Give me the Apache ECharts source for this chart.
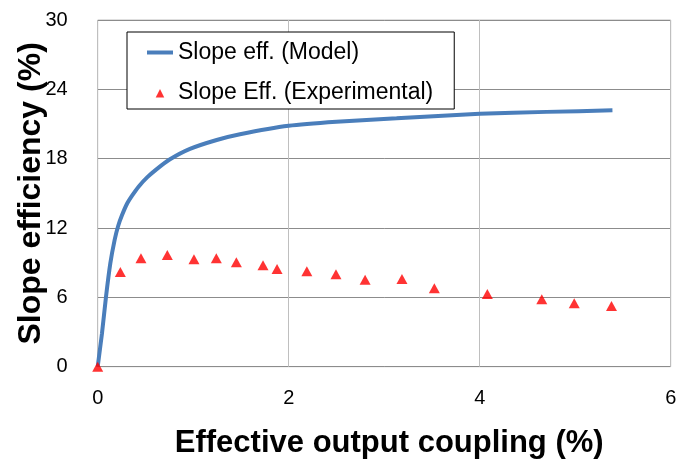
<!DOCTYPE html>
<html><head><meta charset="utf-8">
<script src="https://cdn.jsdelivr.net/npm/echarts@6/dist/echarts.min.js"></script>
<style>html,body{margin:0;padding:0;background:#fff}#c{width:677px;height:459px}</style>
</head><body><div id="c"></div>
<script>
var modelX = [0, 0.045, 0.087, 0.132, 0.178, 0.215, 0.254, 0.307, 0.36, 0.43, 0.52, 0.618, 0.757, 0.966, 1.246, 1.49, 2.0, 2.5, 3.13, 4.0, 4.7, 5.39];
var modelY = [0, 2.9, 6.06, 8.94, 11.0, 12.2, 13.1, 14.1, 14.8, 15.6, 16.4, 17.1, 17.95, 18.85, 19.62, 20.12, 20.85, 21.2, 21.49, 21.89, 22.05, 22.18];
var expX = [0, 0.237, 0.453, 0.729, 1.008, 1.242, 1.452, 1.731, 1.878, 2.19, 2.495, 2.8, 3.186, 3.525, 4.08, 4.65, 4.99, 5.38];
var expY = [0, 8.2, 9.38, 9.66, 9.29, 9.38, 9.03, 8.77, 8.45, 8.25, 7.99, 7.53, 7.59, 6.78, 6.29, 5.83, 5.48, 5.25];
var xTicks = [0, 2, 4, 6];
var yTicks = [0, 6, 12, 18, 24, 30];
var seriesNames = ['Slope eff. (Model)', 'Slope Eff. (Experimental)'];

function pairs(xs, ys) { return xs.map(function (x, i) { return [x, ys[i]]; }); }

var font = 'Arial, "Liberation Sans", sans-serif';
var chart = echarts.init(document.getElementById('c'), null, {renderer: 'canvas'});
chart.setOption({
  animation: false,
  backgroundColor: '#fff',
  grid: {left: 97.7, right: 6.3, top: 20, bottom: 92.3, outerBoundsMode: 'none', containLabel: false,
         show: true, borderColor: '#bfbfbf', borderWidth: 1, backgroundColor: 'transparent'},
  legend: {
    orient: 'vertical', left: 127, top: 32,
    padding: [9, 21, 5, 20],
    itemWidth: 26, itemHeight: 10, itemGap: 17,
    symbolKeepAspect: true,
    backgroundColor: '#fff', borderColor: '#000', borderWidth: 1,
    textStyle: {fontFamily: font, fontSize: 23, color: '#000'},
    data: [
      {name: seriesNames[0], icon: 'path://M0,0 M26,10 M0,3 L26,3 L26,7 L0,7 Z', itemStyle: {color: '#4a7ebb'}},
      {name: seriesNames[1], icon: 'path://M0,0 M26,10 M8.5,10.5 L13,1.5 L17.5,10.5 Z', itemStyle: {color: '#ff0000'}}
    ]
  },
  xAxis: {
    type: 'value', min: xTicks[0], max: xTicks[xTicks.length - 1], interval: 2,
    axisLine: {show: false}, axisTick: {show: false},
    splitLine: {show: true, lineStyle: {color: '#bfbfbf', width: 1}},
    axisLabel: {fontFamily: font, fontSize: 20, color: '#000', margin: 22},
    name: 'Effective output coupling (%)', nameLocation: 'middle', nameGap: 61, nameMoveOverlap: false,
    nameTextStyle: {fontFamily: font, fontSize: 31, fontWeight: 'bold', color: '#000', padding: [0, 0, 0, 10]}
  },
  yAxis: {
    type: 'value', min: yTicks[0], max: yTicks[yTicks.length - 1], interval: 6,
    axisLine: {show: false}, axisTick: {show: false},
    splitLine: {show: true, lineStyle: {color: '#8c8c8c', width: 1}},
    axisLabel: {fontFamily: font, fontSize: 20, color: '#000', margin: 30},
    name: 'Slope efficiency (%)', nameLocation: 'middle', nameGap: 51, nameMoveOverlap: false,
    nameTextStyle: {fontFamily: font, fontSize: 32, fontWeight: 'bold', color: '#000'}
  },
  series: [
    {
      name: seriesNames[0], type: 'line', data: pairs(modelX, modelY),
      showSymbol: false, symbol: 'none', smooth: 0.15,
      lineStyle: {color: '#4a7ebb', width: 4}, itemStyle: {color: '#4a7ebb'}, z: 2
    },
    {
      name: seriesNames[1], type: 'scatter', data: pairs(expX, expY),
      symbol: 'triangle', symbolSize: [11, 10],
      itemStyle: {color: '#ff0000'}, z: 3
    }
  ]
});
</script></body></html>
